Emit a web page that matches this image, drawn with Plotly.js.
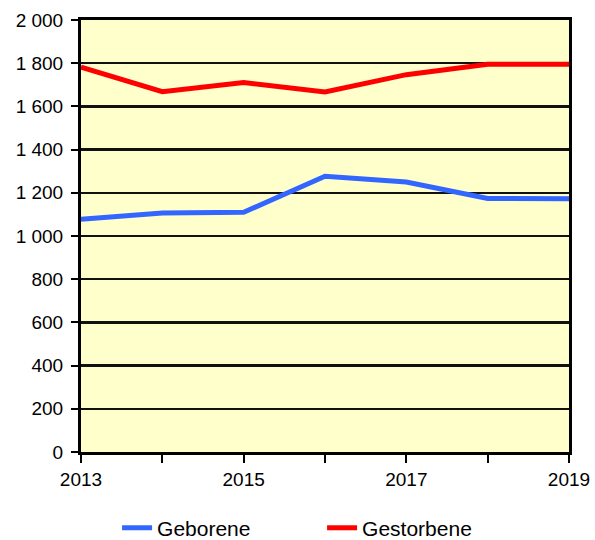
<!DOCTYPE html>
<html>
<head>
<meta charset="utf-8">
<script src="https://cdn.plot.ly/plotly-3.0.1.min.js"></script>
<style>html,body{margin:0;padding:0;background:#fff;}#chart{width:595px;height:540px;}</style>
</head>
<body>
<div id="chart"></div>
<script>
const years = [2013, 2014, 2015, 2016, 2017, 2018, 2019];
const geborene = [1078, 1106, 1110, 1277, 1250, 1174, 1172];
const gestorbene = [1782, 1668, 1710, 1667, 1747, 1795, 1795];
const xTickVals = [2013, 2014, 2015, 2016, 2017, 2018, 2019];
const xTickText = ['2013', '', '2015', '', '2017', '', '2019'];
const yTickVals = [0, 200, 400, 600, 800, 1000, 1200, 1400, 1600, 1800, 2000];
const yTickText = ['0', '200', '400', '600', '800', '1 000', '1 200', '1 400', '1 600', '1 800', '2 000'];

const traces = [
  {x: years, y: geborene, name: 'Geborene', type: 'scatter', mode: 'lines',
   line: {color: '#3366FF', width: 5}},
  {x: years, y: gestorbene, name: 'Gestorbene', type: 'scatter', mode: 'lines',
   line: {color: '#FF0000', width: 5}}
];

const layout = {
  width: 595, height: 540,
  margin: {l: 81, r: 26, t: 20, b: 88},
  paper_bgcolor: '#ffffff',
  plot_bgcolor: '#FFFFCC',
  font: {family: 'Arial, Liberation Sans, sans-serif', color: '#000', size: 19},
  showlegend: true,
  legend: {orientation: 'h', x: 0.494, xanchor: 'center', yref: 'container', y: 0.022, yanchor: 'middle',
           font: {size: 21}, entrywidth: 160, entrywidthmode: 'pixels'},
  xaxis: {
    range: [2013, 2019], tickvals: xTickVals, ticktext: xTickText,
    showgrid: false, zeroline: false, showline: true, linecolor: '#000', linewidth: 3,
    mirror: true, ticks: 'outside', ticklen: 8, tickwidth: 2, tickcolor: '#000',
    ticklabelstandoff: 0
  },
  yaxis: {
    range: [0, 2000], tickvals: yTickVals, ticktext: yTickText,
    showgrid: true, gridcolor: '#111', gridwidth: 2.5, zeroline: false,
    showline: true, linecolor: '#000', linewidth: 3, mirror: true,
    ticks: 'outside', ticklen: 7, tickwidth: 2, tickcolor: '#000',
    ticklabelstandoff: 4
  }
};

Plotly.newPlot('chart', traces, layout, {staticPlot: true, displayModeBar: false});
</script>
</body>
</html>
